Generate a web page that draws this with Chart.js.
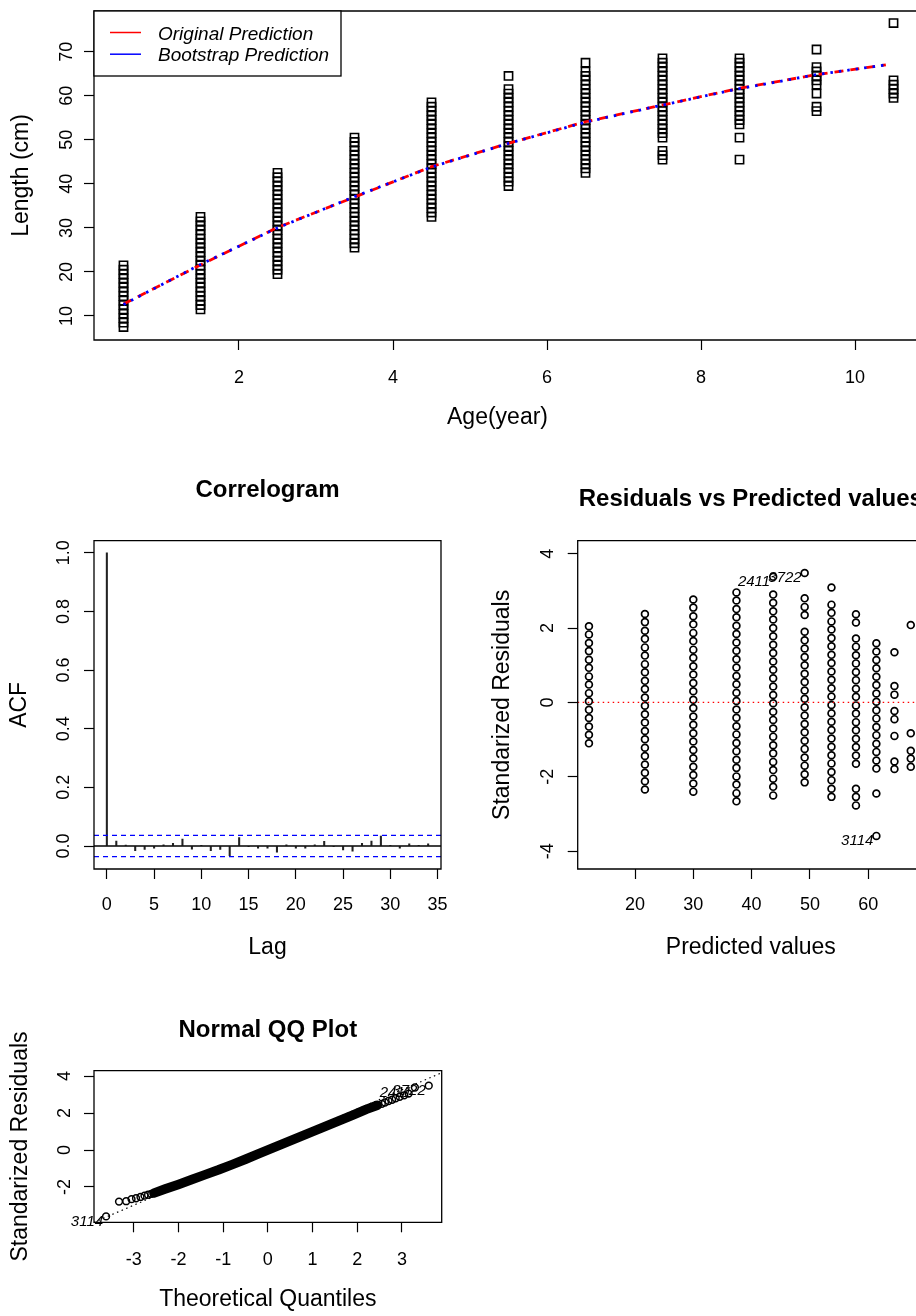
<!DOCTYPE html>
<html>
<head>
<meta charset="utf-8">
<script src="https://cdn.jsdelivr.net/npm/chart.js@4.4.1/dist/chart.umd.min.js"></script>
<style>
html,body{margin:0;padding:0;background:#fff;overflow:hidden;width:916px;height:1316px;position:relative;}
canvas{position:absolute;display:block;}
</style>
</head>
<body>
<canvas id="cTop" width="916" height="450" style="left:0px;top:0px;width:916px;height:450px"></canvas>
<canvas id="cAcf" width="458" height="510" style="left:0px;top:460px;width:458px;height:510px"></canvas>
<canvas id="cRes" width="480" height="510" style="left:458px;top:460px;width:480px;height:510px"></canvas>
<canvas id="cQQ" width="458" height="326" style="left:0px;top:990px;width:458px;height:326px"></canvas>
<script>
const FONT = "'Liberation Sans', Arial, Helvetica, sans-serif";

// ---------------- Top panel: length at age ----------------
const topXTicks = [2, 4, 6, 8, 10];
const topYTicks = [10, 20, 30, 40, 50, 60, 70];
const ageGroups = [0.5, 1.5, 2.5, 3.5, 4.5, 5.5, 6.5, 7.5, 8.5, 9.5, 10.5];
const lenAge0 = [7.5,8.5,9.5,10.5,11.5,12.5,13.5,14.5,15.5,16.5,17.5,18.5,19.5,20.5,21.5];
const lenAge1 = [11.5,12.5,13.5,14.5,15.5,16.5,17.5,18.5,19.5,20.5,21.5,22.5,23.5,24.5,25.5,26.5,27.5,28.5,29.5,30.5,31.5,32.5];
const lenAge2 = [19.5,20.5,21.5,22.5,23.5,24.5,25.5,26.5,27.5,28.5,29.5,30.5,31.5,32.5,33.5,34.5,35.5,36.5,37.5,38.5,39.5,40.5,41.5,42.5];
const lenAge3 = [25.5,26.5,27.5,28.5,29.5,30.5,31.5,32.5,33.5,34.5,35.5,36.5,37.5,38.5,39.5,40.5,41.5,42.5,43.5,44.5,45.5,46.5,47.5,48.5,49.5,50.5];
const lenAge4 = [32.5,33.5,34.5,35.5,36.5,37.5,38.5,39.5,40.5,41.5,42.5,43.5,44.5,45.5,46.5,47.5,48.5,49.5,50.5,51.5,52.5,53.5,54.5,55.5,56.5,57.5,58.5];
const lenAge5 = [39.5,40.5,41.5,42.5,43.5,44.5,45.5,46.5,47.5,48.5,49.5,50.5,51.5,52.5,53.5,54.5,55.5,56.5,57.5,58.5,59.5,60.5,61.5,64.5];
const lenAge6 = [42.5,43.5,44.5,45.5,46.5,47.5,48.5,49.5,50.5,51.5,52.5,53.5,54.5,55.5,56.5,57.5,58.5,59.5,60.5,61.5,62.5,63.5,64.5,65.5,67.5];
const lenAge7 = [45.5,46.5,47.5,50.5,51.5,52.5,53.5,54.5,55.5,56.5,57.5,58.5,59.5,60.5,61.5,62.5,63.5,64.5,65.5,66.5,67.5,68.5];
const lenAge8 = [45.5,50.5,53.5,54.5,55.5,56.5,57.5,58.5,59.5,60.5,61.5,62.5,63.5,64.5,65.5,66.5,67.5,68.5];
const lenAge9 = [56.5,57.5,60.5,62.5,63.5,64.5,65.5,66.5,70.5];
const lenAge10 = [59.5,60.5,61.5,62.5,63.5,76.5];
const predAges = [0.5, 1.5, 2.5, 3.5, 4.5, 5.5, 6.5, 7.5, 8.5, 9.5, 10.4];
const predOriginal = [12.7, 21.6, 30.1, 37.0, 43.9, 49.2, 54.1, 57.9, 61.7, 64.8, 67.0];
const predBootstrap = [12.6, 21.7, 30.0, 37.1, 43.8, 49.2, 54.0, 57.9, 61.6, 64.8, 67.0];

// ---------------- Correlogram ----------------
const acfXTicks = [0, 5, 10, 15, 20, 25, 30, 35];
const acfYTicks = [0, 0.2, 0.4, 0.6, 0.8, 1.0];
const acfLags = [0,1,2,3,4,5,6,7,8,9,10,11,12,13,14,15,16,17,18,19,20,21,22,23,24,25,26,27,28,29,30,31,32,33,34];
const acfValues = [1, 0.017, 0.003, -0.016, -0.012, -0.007, 0.004, 0.009, 0.024, -0.011, 0.002, -0.016, -0.012, -0.033, 0.029, -0.002, -0.007, -0.007, -0.021, 0.004, -0.007, -0.007, 0.004, 0.016, -0.002, -0.013, -0.018, 0.009, 0.017, 0.034, 0.002, -0.007, 0.007, 0.002, 0.007];
const acfBound = [-0.036, 0.036];
const acfXRange = [-1.36, 35.36];

// ---------------- Residuals vs predicted ----------------
const resXTicks = [20, 30, 40, 50, 60];
const resYTicks = [-4, -2, 0, 2, 4];
const resPred = [12.1, 21.7, 30.0, 37.4, 43.7, 49.1, 53.7, 57.9, 61.4, 64.5, 67.3];
const resCol1 = [2.05,1.83,1.60,1.38,1.15,0.93,0.70,0.48,0.25,0.03,-0.20,-0.42,-0.65,-0.87,-1.10];
const resCol2 = [2.38,2.16,1.93,1.71,1.48,1.26,1.03,0.81,0.58,0.36,0.13,-0.09,-0.32,-0.54,-0.77,-0.99,-1.22,-1.44,-1.67,-1.89,-2.12,-2.34];
const resCol3 = [2.77,2.55,2.32,2.10,1.87,1.65,1.42,1.20,0.97,0.75,0.52,0.30,0.07,-0.15,-0.38,-0.60,-0.83,-1.05,-1.28,-1.50,-1.73,-1.95,-2.18,-2.40];
const resCol4 = [2.96,2.74,2.51,2.29,2.06,1.84,1.61,1.39,1.16,0.94,0.71,0.49,0.26,0.04,-0.19,-0.41,-0.64,-0.86,-1.09,-1.31,-1.54,-1.76,-1.99,-2.21,-2.44,-2.66];
const resCol5 = [3.38,2.90,2.68,2.45,2.23,2.00,1.78,1.55,1.33,1.10,0.88,0.65,0.43,0.20,-0.02,-0.25,-0.47,-0.70,-0.92,-1.15,-1.37,-1.60,-1.82,-2.05,-2.27,-2.50];
const resCol6 = [3.48,2.80,2.57,2.35,1.90,1.67,1.45,1.22,1.00,0.77,0.55,0.32,0.10,-0.13,-0.35,-0.58,-0.80,-1.03,-1.25,-1.48,-1.70,-1.93,-2.15];
const resCol7 = [3.09,2.63,2.41,2.18,1.96,1.73,1.51,1.28,1.06,0.83,0.61,0.38,0.16,-0.07,-0.29,-0.52,-0.74,-0.97,-1.19,-1.42,-1.64,-1.87,-2.09,-2.32,-2.54];
const resCol8 = [2.37,2.15,1.72,1.50,1.27,1.05,0.82,0.60,0.37,0.15,-0.08,-0.30,-0.53,-0.75,-0.98,-1.20,-1.43,-1.65,-2.32,-2.54,-2.77];
const resCol9 = [1.59,1.37,1.14,0.92,0.69,0.47,0.24,0.02,-0.21,-0.43,-0.66,-0.88,-1.11,-1.33,-1.56,-1.78,-2.45,-3.59];
const resCol10 = [1.35,0.44,0.21,-0.23,-0.45,-0.90,-1.59,-1.79];
const resCol11 = [2.08,-0.83,-1.30,-1.51,-1.73];
const resXRange = [10.17, 69.57];
const resLabelText = ['2411', '3722', '3114'];
const resLabelX = [43.7, 49.1, 61.4];
const resLabelY = [3.38, 3.48, -3.59];

// ---------------- Normal QQ ----------------
const qqXTicks = [-3, -2, -1, 0, 1, 2, 3];
const qqYTicks = [-2, 0, 2, 4];
const qqBandX = [-2.55,-2.3,-2.0,-1.7,-1.4,-1.1,-0.8,-0.5,-0.2,0.1,0.4,0.7,1.0,1.3,1.6,1.9,2.2,2.45];
const qqBandY = [-2.33,-2.11,-1.86,-1.60,-1.33,-1.07,-0.79,-0.50,-0.20,0.10,0.40,0.70,0.99,1.29,1.59,1.89,2.20,2.42];
const qqTailX = [-3.62,-3.33,-3.17,-3.05,-2.95,-2.85,-2.76,-2.68,-2.61,2.55,2.62,2.70,2.78,2.86,2.95,3.05,3.15,3.29,3.60];
const qqTailY = [-3.59,-2.79,-2.77,-2.66,-2.61,-2.54,-2.47,-2.42,-2.37,2.50,2.57,2.65,2.72,2.80,2.88,2.96,3.05,3.38,3.48];
const qqLineX = [-3.89, 3.89];
const qqLineY = [-3.91, 4.18];
const qqLabelText = ['3114', '2411', '3722'];
const qqLabelX = [-3.62, 3.29, 3.60];
const qqLabelY = [-3.59, 3.38, 3.48];

// ---------------- helpers ----------------
const zip = (xs, ys) => xs.map((x, i) => ({x: x, y: ys[i]}));

function axis(o) {
  const vertical = !!o.vertical;
  return {
    type: 'linear', min: o.min, max: o.max, offset: false,
    afterFit: s => {
      if (vertical) s.width = o.size; else s.height = o.size;
      s.paddingTop = 0; s.paddingBottom = 0; s.paddingLeft = 0; s.paddingRight = 0;
    },
    afterBuildTicks: s => { s.ticks = o.ticks.map(v => ({value: v})); },
    grid: {display: true, drawOnChartArea: false, drawTicks: true, tickLength: 10, tickWidth: 1.2,
           color: '#000', tickColor: '#000', offset: false},
    border: {display: false},
    ticks: Object.assign({autoSkip: false, color: '#000', font: {size: 18, family: FONT},
      padding: o.pad, callback: o.fmt || (v => String(v))},
      vertical ? {minRotation: 90, maxRotation: 90, crossAlign: 'center'} : {minRotation: 0, maxRotation: 0}),
    title: {display: true, text: o.title, color: '#000', font: {size: 23, family: FONT},
      padding: vertical ? {top: o.tpad, bottom: 0} : {top: 0, bottom: o.tpad}}
  };
}

const framePlugin = {
  id: 'frame',
  afterDatasetsDraw(chart, args, opts) {
    const ctx = chart.ctx, a = chart.chartArea;
    ctx.save();
    ctx.strokeStyle = '#000';
    ctx.lineWidth = 1.3;
    ctx.beginPath();
    if (opts && opts.extendRight) {
      const r = chart.width + 5;
      ctx.moveTo(r, a.top); ctx.lineTo(a.left, a.top); ctx.lineTo(a.left, a.bottom); ctx.lineTo(r, a.bottom);
    } else {
      ctx.rect(a.left, a.top, a.right - a.left, a.bottom - a.top);
    }
    ctx.stroke();
    ctx.restore();
  }
};

const labelPlugin = {
  id: 'ptLabels',
  afterDatasetsDraw(chart, args, opts) {
    if (!opts || !opts.text) return;
    const ctx = chart.ctx, xs = chart.scales.x, ys = chart.scales.y;
    ctx.save();
    ctx.font = 'italic 15px ' + FONT;
    ctx.fillStyle = '#000';
    ctx.textAlign = 'right';
    ctx.textBaseline = 'middle';
    opts.text.forEach((t, i) => {
      ctx.fillText(t, xs.getPixelForValue(opts.x[i]) - 3, ys.getPixelForValue(opts.y[i]) + 5);
    });
    ctx.restore();
  }
};

const legendPlugin = {
  id: 'rLegend',
  afterDraw(chart, args, o) {
    const ctx = chart.ctx, a = chart.chartArea;
    ctx.save();
    ctx.fillStyle = '#fff';
    ctx.fillRect(a.left, a.top, 247, 65);
    ctx.strokeStyle = '#000';
    ctx.lineWidth = 1.3;
    ctx.strokeRect(a.left, a.top, 247, 65);
    const items = chart.data.datasets.filter(d => d.inLegend);
    items.forEach((d, i) => {
      const y = a.top + 21.5 + i * 21.7;
      ctx.strokeStyle = d.borderColor;
      ctx.lineWidth = 1.5;
      ctx.beginPath(); ctx.moveTo(a.left + 16, y); ctx.lineTo(a.left + 47, y); ctx.stroke();
      ctx.fillStyle = '#000';
      ctx.font = 'italic 19px ' + FONT;
      ctx.textAlign = 'left';
      ctx.textBaseline = 'middle';
      ctx.fillText(d.label, a.left + 64, y + 2);
    });
    ctx.restore();
  }
};

const base = {responsive: false, animation: false, devicePixelRatio: 1, events: []};
const titleOpts = (text, pt, pb) => ({display: true, text: text, color: '#000', fullSize: false,
  font: {size: 24, weight: 'bold', family: FONT}, padding: {top: pt, bottom: pb}});

// ---------------- Top chart ----------------
const lenGroups = [lenAge0, lenAge1, lenAge2, lenAge3, lenAge4, lenAge5, lenAge6, lenAge7, lenAge8, lenAge9, lenAge10];
const obsPoints = [];
ageGroups.forEach((a, i) => lenGroups[i].forEach(v => obsPoints.push({x: a, y: v})));

new Chart(document.getElementById('cTop'), {
  type: 'scatter',
  data: {datasets: [
    {label: 'Observed', data: obsPoints, order: 2, pointStyle: 'rect', pointRadius: 5.8,
     pointBorderWidth: 1.6, pointBorderColor: '#000', pointBackgroundColor: 'rgba(0,0,0,0)', showLine: false},
    {type: 'line', label: 'Original Prediction', inLegend: true, order: 1, data: zip(predAges, predOriginal),
     borderColor: '#ff0000', borderWidth: 2.8, borderDash: [9, 7], pointRadius: 0, fill: false, tension: 0},
    {type: 'line', label: 'Bootstrap Prediction', inLegend: true, order: 0, data: zip(predAges, predBootstrap),
     borderColor: '#0000ff', borderWidth: 2.8, borderDash: [2.5, 6], pointRadius: 0, fill: false, tension: 0}
  ]},
  options: Object.assign({}, base, {
    layout: {padding: {top: 11, right: 15, left: 0, bottom: 0}},
    plugins: {legend: {display: false}, tooltip: {enabled: false}, frame: {extendRight: true}},
    scales: {
      x: axis({min: 0.117, max: 10.597, ticks: topXTicks, size: 110, pad: 17, title: 'Age(year)', tpad: 19}),
      y: axis({vertical: true, min: 4.55, max: 79.24, ticks: topYTicks, size: 94, pad: 7, title: 'Length (cm)', tpad: 7.7})
    }
  }),
  plugins: [framePlugin, legendPlugin]
});

// ---------------- Correlogram ----------------
new Chart(document.getElementById('cAcf'), {
  type: 'bar',
  data: {datasets: [
    {type: 'bar', label: 'ACF', data: zip(acfLags, acfValues), backgroundColor: '#222', borderWidth: 0,
     barThickness: 1.4, order: 2},
    {type: 'line', label: 'zero', data: zip(acfXRange, [0, 0]), borderColor: '#000', borderWidth: 1.3,
     pointRadius: 0, fill: false, order: 1},
    {type: 'line', label: 'upper', data: zip(acfXRange, [acfBound[1], acfBound[1]]), borderColor: '#0000ff',
     borderWidth: 1.3, borderDash: [5, 4], pointRadius: 0, fill: false, order: 0},
    {type: 'line', label: 'lower', data: zip(acfXRange, [acfBound[0], acfBound[0]]), borderColor: '#0000ff',
     borderWidth: 1.3, borderDash: [5, 4], pointRadius: 0, fill: false, order: 0}
  ]},
  options: Object.assign({}, base, {
    layout: {padding: {top: 0, right: 17, left: 0, bottom: 0}},
    plugins: {legend: {display: false}, tooltip: {enabled: false}, title: titleOpts('Correlogram', 15.6, 36.3)},
    scales: {
      x: axis({min: acfXRange[0], max: acfXRange[1], ticks: acfXTicks, size: 101, pad: 15.2, title: 'Lag', tpad: 8.5}),
      y: axis({vertical: true, min: -0.0784, max: 1.041, ticks: acfYTicks, size: 94, pad: 7.5, title: 'ACF', tpad: 5.9,
               fmt: v => Number(v).toFixed(1)})
    }
  }),
  plugins: [framePlugin]
});

// ---------------- Residuals vs Predicted ----------------
const resCols = [resCol1, resCol2, resCol3, resCol4, resCol5, resCol6, resCol7, resCol8, resCol9, resCol10, resCol11];
const resPoints = [];
resPred.forEach((p, i) => resCols[i].forEach(v => resPoints.push({x: p, y: v})));

new Chart(document.getElementById('cRes'), {
  type: 'scatter',
  data: {datasets: [
    {label: 'Residuals', data: resPoints, order: 1, pointStyle: 'circle', pointRadius: 3.4, pointBorderWidth: 1.7,
     pointBorderColor: '#000', pointBackgroundColor: 'rgba(0,0,0,0)', showLine: false},
    {type: 'line', label: 'zero', data: zip(resXRange, [0, 0]), order: 0, borderColor: '#ff0000', borderWidth: 1.3,
     borderDash: [1.5, 3.5], pointRadius: 0, fill: false}
  ]},
  options: Object.assign({}, base, {
    layout: {padding: {top: 0, right: 14, left: 0, bottom: 0}},
    plugins: {legend: {display: false}, tooltip: {enabled: false},
      title: titleOpts('Residuals vs Predicted values', 24.6, 27.3),
      ptLabels: {text: resLabelText, x: resLabelX, y: resLabelY}},
    scales: {
      x: axis({min: resXRange[0], max: resXRange[1], ticks: resXTicks, size: 101, pad: 15.2, title: 'Predicted values', tpad: 8.5}),
      y: axis({vertical: true, min: -4.48, max: 4.35, ticks: resYTicks, size: 119.7, pad: 11.7, title: 'Standarized Residuals', tpad: 30.7})
    }
  }),
  plugins: [framePlugin, labelPlugin]
});

// ---------------- Normal QQ ----------------
new Chart(document.getElementById('cQQ'), {
  type: 'scatter',
  data: {datasets: [
    {type: 'line', label: 'band', data: zip(qqBandX, qqBandY), order: 2, borderColor: '#000', borderWidth: 9.5,
     borderCapStyle: 'round', borderJoinStyle: 'round', pointRadius: 0, fill: false, tension: 0},
    {label: 'tails', data: zip(qqTailX, qqTailY), order: 1, pointStyle: 'circle', pointRadius: 3.4,
     pointBorderWidth: 1.5, pointBorderColor: '#000', pointBackgroundColor: 'rgba(0,0,0,0)', showLine: false},
    {type: 'line', label: 'qqline', data: zip(qqLineX, qqLineY), order: 0, borderColor: '#000', borderWidth: 1.2,
     borderDash: [1.5, 3.5], pointRadius: 0, fill: false}
  ]},
  options: Object.assign({}, base, {
    layout: {padding: {top: 0, right: 16.3, left: 0, bottom: 0}},
    plugins: {legend: {display: false}, tooltip: {enabled: false},
      title: titleOpts('Normal QQ Plot', 25.6, 26.3),
      ptLabels: {text: qqLabelText, x: qqLabelX, y: qqLabelY}},
    scales: {
      x: axis({min: -3.89, max: 3.89, ticks: qqXTicks, size: 93.7, pad: 16.9, title: 'Theoretical Quantiles', tpad: 2.2}),
      y: axis({vertical: true, min: -3.91, max: 4.29, ticks: qqYTicks, size: 94, pad: 11, title: 'Standarized Residuals', tpad: 7.2})
    }
  }),
  plugins: [framePlugin, labelPlugin]
});
</script>
</body>
</html>
